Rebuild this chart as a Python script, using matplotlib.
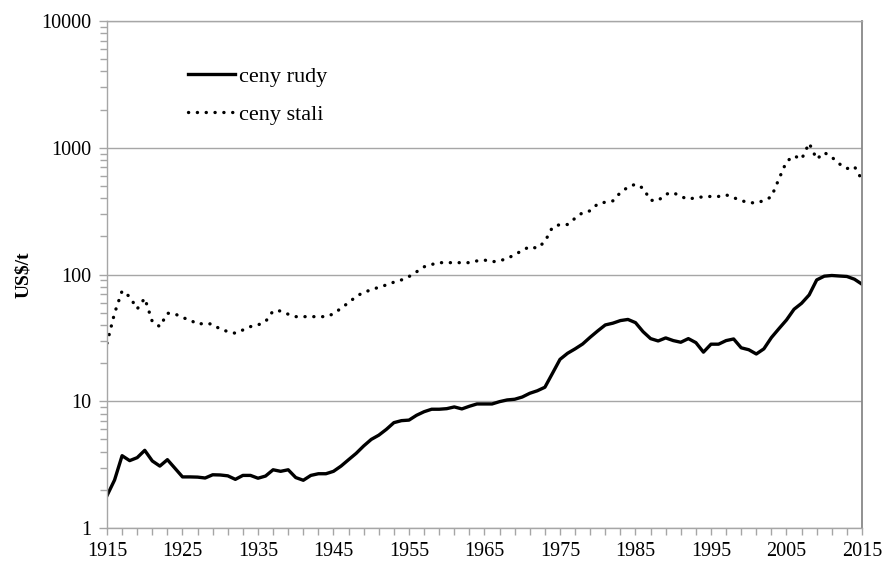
import numpy as np
import matplotlib
matplotlib.use("Agg")
import matplotlib.pyplot as plt
from matplotlib.ticker import LogLocator, FixedLocator, NullFormatter

years = list(range(1915, 2016))

ceny_rudy = [
    1.8, 2.39, 3.72, 3.4, 3.59, 4.1, 3.38, 3.08, 3.46, 2.96,
    2.53, 2.53, 2.52, 2.48, 2.63, 2.62, 2.58, 2.42, 2.6, 2.6,
    2.47, 2.57, 2.88, 2.8, 2.88, 2.5, 2.38, 2.6, 2.68, 2.68,
    2.8, 3.08, 3.46, 3.88, 4.44, 5.0, 5.4, 6.0, 6.78, 7.03,
    7.1, 7.75, 8.27, 8.65, 8.65, 8.74, 9.02, 8.7, 9.13, 9.52,
    9.52, 9.52, 9.93, 10.24, 10.37, 10.8, 11.56, 12.1, 12.9, 16.6,
    21.4, 23.9, 25.9, 28.3, 32.0, 35.9, 40.0, 41.3, 43.3, 44.2,
    41.7, 35.4, 31.2, 29.9, 31.6, 30.1, 29.2, 31.2, 29.0, 24.4,
    28.2, 28.2, 30.1, 31.0, 26.4, 25.5, 23.6, 25.9, 31.8, 37.4,
    43.8, 53.2, 59.3, 69.0, 90.6, 97.0, 98.2, 97.3, 96.5, 91.8,
    83.8,
]

ceny_stali = [
    28.7, 49.5, 74.2, 66.9, 53.5, 65.0, 42.5, 38.8, 49.5, 48.9,
    45.7, 43.8, 40.5, 41.3, 40.5, 37.0, 35.5, 34.4, 36.5, 38.8,
    40.0, 42.5, 51.6, 51.6, 48.6, 46.5, 46.5, 46.5, 46.5, 46.5,
    48.9, 54.2, 60.0, 67.0, 72.5, 75.6, 79.4, 82.7, 87.0, 90.6,
    96.3, 105, 115, 120, 124, 124, 124, 124, 124, 128,
    130, 126, 128, 134, 143, 155, 166, 161, 182, 236,
    248, 248, 278, 308, 318, 361, 372, 381, 443, 489,
    516, 480, 385, 383, 430, 443, 412, 393, 404, 410,
    413, 413, 425, 404, 383, 369, 367, 383, 410, 568,
    778, 863, 813, 1087, 813, 917, 843, 746, 685, 711,
    558,
]

x_labels = list(range(1915, 2016, 10))

plt.rcParams['font.family'] = ['Liberation Serif', 'DejaVu Serif']

fig = plt.figure(figsize=(8.83, 5.62), dpi=100)
ax = fig.add_axes([107 / 883, 1 - 528 / 562, (862 - 107) / 883, (528 - 21) / 562])

ax.plot(years, ceny_rudy, color='black', lw=2.4, solid_joinstyle='round', label='ceny rudy')
ax.plot(years, ceny_stali, color='black', lw=2.4, linestyle=(0, (0.05, 2.6)),
        dash_capstyle='round', label='ceny stali')

ax.set_yscale('log')
ax.set_ylim(1, 10000)
ax.set_xlim(1915, 2015)
ax.set_yticks([1, 10, 100, 1000, 10000])
ax.set_yticklabels(['1', '10', '100', '1000', '10000'])
ax.yaxis.set_minor_locator(LogLocator(base=10, subs=np.arange(2, 10)))
ax.yaxis.set_minor_formatter(NullFormatter())
ax.set_xticks(x_labels)
ax.set_xticklabels([str(y) for y in x_labels])
ax.xaxis.set_minor_locator(FixedLocator(list(range(1915, 2016, 2))))

ax.grid(axis='y', which='major', color='#a6a6a6', lw=1)
ax.set_axisbelow(True)

for side in ['left', 'bottom', 'top']:
    ax.spines[side].set_color('#a6a6a6')
    ax.spines[side].set_linewidth(1)
ax.spines['right'].set_color('#888888')
ax.spines['right'].set_linewidth(1.3)

ax.tick_params(axis='both', which='both', direction='out', color='#a6a6a6',
               labelsize=14.5, width=1)
ax.tick_params(axis='y', which='major', length=6, pad=5)
ax.tick_params(axis='y', which='minor', length=5)
ax.tick_params(axis='x', which='both', length=5, pad=5)

ax.set_ylabel('US$/t', fontsize=14, fontweight='bold', labelpad=7)

ax.legend(loc='upper left', bbox_to_anchor=(0.081, 0.95), frameon=False,
          fontsize=16, handlelength=2.1, handletextpad=0.2, labelspacing=0.8)

fig.savefig('out.png', dpi=100)
